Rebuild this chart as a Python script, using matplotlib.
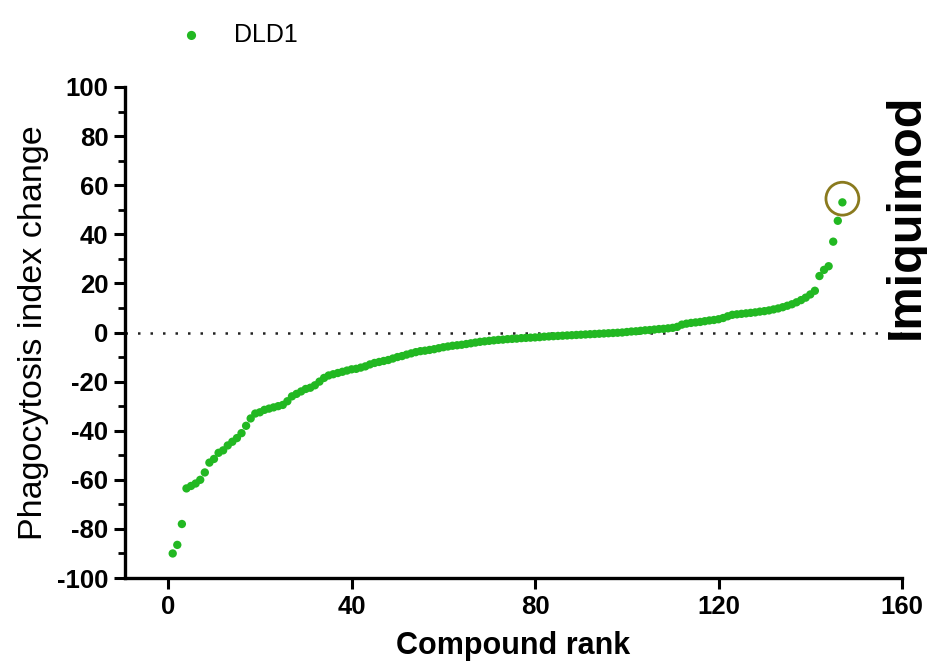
import matplotlib
matplotlib.use("Agg")
import matplotlib.pyplot as plt
from matplotlib.ticker import MultipleLocator
import numpy as np

plt.rcParams['font.family'] = ['Liberation Sans', 'DejaVu Sans']
plt.rcParams['axes.unicode_minus'] = False

series_label = "DLD1"
highlight_label = "Imiquimod"
ranks = list(range(1, 148))
values = [
    -90, -86.5, -78, -63.5, -62.5, -61.5, -60, -57, -53, -51.5,
    -49, -48, -46, -44.5, -43, -41, -38, -35, -33, -32.5,
    -31.5, -31, -30.5, -30, -29.5, -28, -26, -25, -24, -23,
    -22.5, -21.5, -20, -18.5, -17.5, -17, -16.5, -16, -15.5, -15,
    -14.8, -14.3, -13.8, -13, -12.4, -12, -11.6, -11.2, -10.6, -10,
    -9.6, -9, -8.5, -8, -7.6, -7.4, -7.1, -6.8, -6.4, -6.0,
    -5.7, -5.4, -5.2, -5.0, -4.7, -4.4, -4.1, -3.8, -3.6, -3.4,
    -3.2, -3.0, -2.9, -2.7, -2.6, -2.5, -2.3, -2.2, -2.1, -2.0,
    -1.9, -1.7, -1.6, -1.5, -1.4, -1.3, -1.2, -1.1, -1.0, -0.9,
    -0.8, -0.7, -0.6, -0.5, -0.4, -0.3, -0.2, -0.1, 0.0, 0.2,
    0.4, 0.5, 0.7, 0.9, 1.0, 1.2, 1.4, 1.5, 1.7, 1.9,
    2.3, 3.2, 3.6, 3.9, 4.1, 4.3, 4.6, 4.9, 5.1, 5.4,
    5.9, 6.6, 7.2, 7.4, 7.6, 7.8, 8.0, 8.2, 8.5, 8.7,
    9.0, 9.4, 9.8, 10.3, 10.9, 11.5, 12.3, 13.2, 14.2, 15.5,
    17, 23, 25.5, 27, 37, 45.5, 53,
]
x_ticks = [0, 40, 80, 120, 160]
y_ticks = [-100, -80, -60, -40, -20, 0, 20, 40, 60, 80, 100]

green = "#22b822"

fig = plt.figure(figsize=(9.28, 6.66), dpi=100)
ax = fig.add_axes([0.1347, 0.1321, 0.972 - 0.1347, 0.8694 - 0.1321])

ax.axhline(0, color="#222222", linestyle=(0, (1, 4)), linewidth=1.8, zorder=1)
ax.scatter(ranks, values, s=36, color=green, edgecolors="none", zorder=3, label=series_label)

# highlight circle on the top point
ax.scatter([ranks[-1]], [values[-1] + 1.5], s=560, facecolors="none",
           edgecolors="#8a7a1e", linewidths=2.0, zorder=4)

ax.set_xlim(-9.4, 160)
ax.set_ylim(-100, 100)
ax.set_xticks(x_ticks)
ax.set_yticks(y_ticks)
ax.yaxis.set_minor_locator(MultipleLocator(10))

for s in ["top", "right"]:
    ax.spines[s].set_visible(False)
for s in ["left", "bottom"]:
    ax.spines[s].set_linewidth(2.4)

ax.tick_params(axis="both", which="major", direction="out", length=8, width=2.2,
               labelsize=18.5, pad=4)
ax.tick_params(axis="y", which="minor", direction="out", length=5, width=2.0)
for lab in ax.get_xticklabels() + ax.get_yticklabels():
    lab.set_fontweight("bold")

ax.set_xlabel("Compound rank", fontsize=22, fontweight="bold", labelpad=9)
ax.set_ylabel("Phagocytosis index change", fontsize=24.5, labelpad=6)

fig.text(906 / 928, 1 - 216 / 666, highlight_label, rotation=90, ha="center", va="center",
         fontsize=35, fontweight="bold")

leg = ax.legend(loc="center left", bbox_to_anchor=(154 / 928, 1 - 35 / 666),
                bbox_transform=fig.transFigure, frameon=False, fontsize=18,
                handletextpad=0.7, borderpad=0, markerscale=1.1)

fig.savefig("out.png", dpi=100)
